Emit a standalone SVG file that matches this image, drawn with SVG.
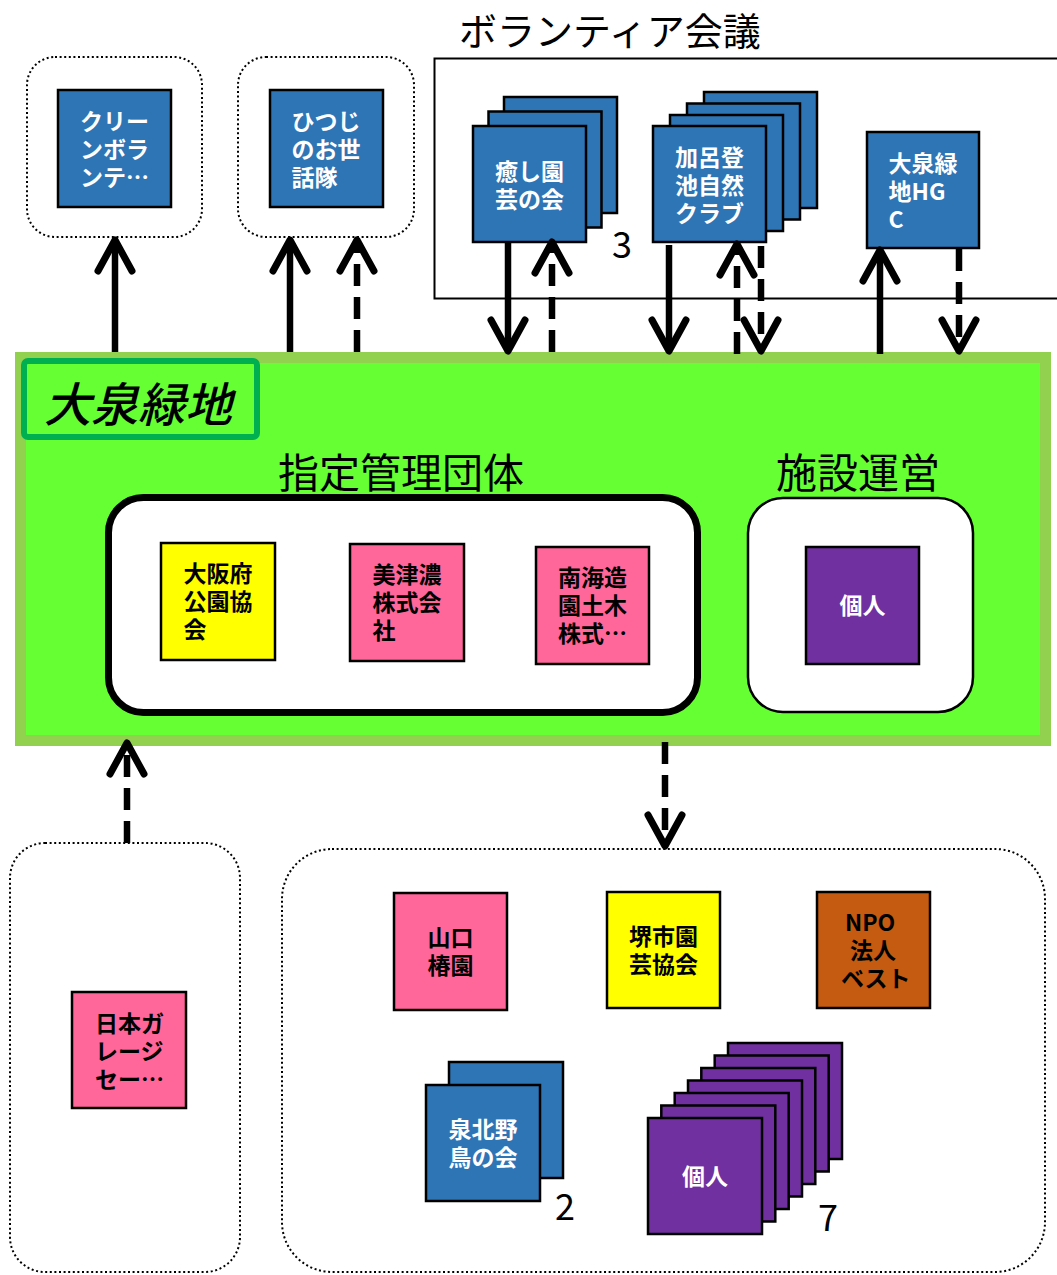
<svg xmlns="http://www.w3.org/2000/svg" width="1057" height="1275" viewBox="0 0 1057 1275">
<style>
.t{font-family:"Noto Sans CJK JP","Noto Sans",sans-serif;}
.title{font-family:"Noto Sans CJK JP","Noto Sans",sans-serif;font-size:38px;fill:#000;}
.sec{font-family:"Noto Sans CJK JP","Noto Sans",sans-serif;font-size:41px;fill:#000;}
.num{font-family:"Noto Sans CJK JP","Noto Sans",sans-serif;font-size:36px;fill:#000;}
.lbl{font-family:"Noto Sans CJK JP","Noto Sans",sans-serif;font-size:23px;font-weight:700;}
.w{fill:#fff;}
.k{fill:#000;}
.n{stroke:#000;stroke-width:2.5;}
.blue{fill:#2e75b6;}
.pink{fill:#ff6699;}
.yel{fill:#ffff00;}
.org{fill:#c55a11;}
.pur{fill:#7030a0;}
.dot{fill:none;stroke:#000;stroke-width:2;stroke-dasharray:2 2.6;}
.c{fill:none;stroke:#000;stroke-width:6.5;marker-end:url(#ah);}
.d{stroke-dasharray:22 11;}
</style>
<defs>
<marker id="ah" viewBox="-38 -22 44 44" markerWidth="44" markerHeight="44" refX="0" refY="0" orient="auto" markerUnits="userSpaceOnUse">
<path d="M-31,-17 L0,0 L-31,17" fill="none" stroke="#000" stroke-width="7" stroke-linecap="round" stroke-linejoin="round"/>
</marker>
</defs>

<g id="ooizumi-ryokuchi">
<rect x="20.5" y="357.5" width="1025" height="383" fill="#66ff33" stroke="#92d050" stroke-width="11"/>
<rect x="24" y="361" width="233" height="76" rx="4" fill="#66ff33" stroke="#00b050" stroke-width="6"/>
<text class="t" x="44" y="422" font-size="47" font-style="italic" font-weight="500" fill="#000">大泉緑地</text>
</g>

<g id="shitei-kanri">
<text class="sec" x="401" y="488" text-anchor="middle">指定管理団体</text>
<rect x="108.5" y="497.5" width="589" height="215" rx="35" fill="#fff" stroke="#000" stroke-width="7"/>
</g>
<g id="osaka-koen">
<rect class="n yel" x="161" y="543" width="114" height="117"/>
<text class="lbl k"><tspan x="183.5" y="582">大阪府</tspan><tspan x="183.5" y="610">公園協</tspan><tspan x="183.5" y="638">会</tspan></text>
</g>
<g id="mizuno">
<rect class="n pink" x="350" y="544" width="114" height="117"/>
<text class="lbl k"><tspan x="372.5" y="583">美津濃</tspan><tspan x="372.5" y="611">株式会</tspan><tspan x="372.5" y="639">社</tspan></text>
</g>
<g id="nankai">
<rect class="n pink" x="536" y="547" width="113" height="117"/>
<text class="lbl k"><tspan x="558" y="586">南海造</tspan><tspan x="558" y="614">園土木</tspan><tspan x="558" y="642">株式…</tspan></text>
</g>

<g id="shisetsu-unei">
<text class="sec" x="858" y="488" text-anchor="middle">施設運営</text>
<rect x="748" y="498" width="225" height="214" rx="35" fill="#fff" stroke="#000" stroke-width="2.5"/>
</g>
<g id="kojin-shisetsu">
<rect class="n pur" x="806" y="547" width="113" height="117"/>
<text class="lbl w" x="862.5" y="614" text-anchor="middle">個人</text>
</g>

<g id="clean-volunteer">
<rect class="dot" x="27" y="57" width="175" height="180" rx="28"/>
<rect class="n blue" x="58" y="90" width="113" height="117"/>
<text class="lbl w"><tspan x="80" y="130">クリー</tspan><tspan x="80" y="158">ンボラ</tspan><tspan x="80" y="186">ンテ…</tspan></text>
</g>
<g id="hitsuji">
<rect class="dot" x="238" y="57" width="176" height="180" rx="28"/>
<rect class="n blue" x="270" y="90" width="113" height="117"/>
<text class="lbl w"><tspan x="291.5" y="130">ひつじ</tspan><tspan x="291.5" y="158">のお世</tspan><tspan x="291.5" y="186">話隊</tspan></text>
</g>

<g id="volunteer-kaigi">
<text class="title" x="459" y="45">ボランティア会議</text>
<rect x="434.5" y="58.5" width="640" height="240" fill="none" stroke="#000" stroke-width="2"/>
</g>
<g id="iyashi-engei">
<rect class="n blue" x="504" y="97" width="113" height="116"/>
<rect class="n blue" x="488.5" y="111.5" width="113" height="116"/>
<rect class="n blue" x="473" y="126" width="113" height="116"/>
<text class="lbl w"><tspan x="495" y="180">癒し園</tspan><tspan x="495" y="208">芸の会</tspan></text>
<text class="num" x="612" y="258">3</text>
</g>
<g id="karoto">
<rect class="n blue" x="704" y="92" width="113" height="116"/>
<rect class="n blue" x="687" y="103.5" width="113" height="116"/>
<rect class="n blue" x="670" y="115" width="113" height="116"/>
<rect class="n blue" x="653" y="126" width="113" height="116"/>
<text class="lbl w"><tspan x="675" y="166">加呂登</tspan><tspan x="675" y="194">池自然</tspan><tspan x="675" y="222">クラブ</tspan></text>
</g>
<g id="ooizumi-hgc">
<rect class="n blue" x="867" y="132" width="112" height="116"/>
<text class="lbl w"><tspan x="888.5" y="172">大泉緑</tspan><tspan x="888.5" y="200">地HG</tspan><tspan x="888.5" y="228">C</tspan></text>
</g>

<g id="nihon-garage">
<rect class="dot" x="10" y="843" width="230" height="429" rx="35"/>
<rect class="n pink" x="72" y="992" width="114" height="116"/>
<text class="lbl k"><tspan x="95" y="1032">日本ガ</tspan><tspan x="95" y="1060">レージ</tspan><tspan x="95" y="1088">セー…</tspan></text>
</g>

<g id="others">
<rect class="dot" x="282" y="849" width="763" height="423" rx="50"/>
</g>
<g id="yamaguchi">
<rect class="n pink" x="394" y="893" width="113" height="117"/>
<text class="lbl k" text-anchor="middle"><tspan x="450.5" y="946">山口</tspan><tspan x="450.5" y="974">椿園</tspan></text>
</g>
<g id="sakai-engei">
<rect class="n yel" x="607" y="892" width="113" height="116"/>
<text class="lbl k"><tspan x="629" y="945">堺市園</tspan><tspan x="629" y="973">芸協会</tspan></text>
</g>
<g id="npo-best">
<rect class="n org" x="817" y="892" width="113" height="116"/>
<text class="lbl k"><tspan x="845" y="931">NPO</tspan><tspan x="850" y="959">法人</tspan><tspan x="841" y="987">ベスト</tspan></text>
</g>
<g id="senboku-yacho">
<rect class="n blue" x="449" y="1062" width="114" height="116"/>
<rect class="n blue" x="426" y="1085" width="114" height="116"/>
<text class="lbl w"><tspan x="448.5" y="1138">泉北野</tspan><tspan x="448.5" y="1166">鳥の会</tspan></text>
<text class="num" x="555" y="1220">2</text>
</g>
<g id="kojin-stack">
<rect class="n pur" x="728" y="1043" width="114" height="116"/>
<rect class="n pur" x="714.7" y="1055.5" width="114" height="116"/>
<rect class="n pur" x="701.3" y="1068" width="114" height="116"/>
<rect class="n pur" x="688" y="1080.5" width="114" height="116"/>
<rect class="n pur" x="674.7" y="1093" width="114" height="116"/>
<rect class="n pur" x="661.3" y="1105.5" width="114" height="116"/>
<rect class="n pur" x="648" y="1118" width="114" height="116"/>
<text class="lbl w" x="705" y="1185" text-anchor="middle">個人</text>
<text class="num" x="818" y="1231">7</text>
</g>

<g id="connectors">
<path class="c" d="M115,352 L115,240"/>
<path class="c" d="M290,352 L290,240"/>
<path class="c d" d="M357,352 L357,240"/>
<path class="c" d="M508,243 L508,351"/>
<path class="c d" d="M552,352 L552,242"/>
<path class="c" d="M669,245 L669,351"/>
<path class="c d" d="M737,354 L737,244"/>
<path class="c d" d="M761,246 L761,351"/>
<path class="c" d="M880,354 L880,250"/>
<path class="c d" d="M959,249 L959,351"/>
<path class="c d" d="M127,843 L127,743"/>
<path class="c d" d="M665,742 L665,846"/>
</g>
</svg>
